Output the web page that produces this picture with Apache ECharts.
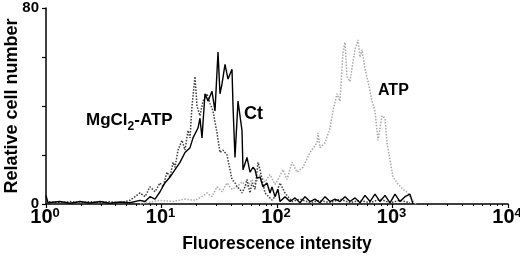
<!DOCTYPE html>
<html><head><meta charset="utf-8">
<script src="https://cdn.jsdelivr.net/npm/echarts@6/dist/echarts.min.js"></script>
<style>html,body{margin:0;padding:0;background:#fff}#c{width:520px;height:266px}</style>
</head><body><div id="c"></div>
<script>
// Fluorescence intensity (log scale) and relative cell number
var ctData = [
  [1.00,3.5],[1.04,0.5],[1.32,1],[1.61,0.3],[1.97,1],[2.40,0.4],[2.94,1],[3.58,0.3],[4.37,0.8],[5.34,0.5],
  [6.51,1.5],[7.20,1],[7.95,3],[8.78,2],[9.71,5],[10.7,8.6],[11.85,11],[13.09,14],[14.46,17],[15.98,21],
  [17.66,23],[18.74,27],[20.70,31],[21.54,35],[22.42,27],[23.80,45],[25.27,42],[26.29,44],[27.36,46],[29.05,38],
  [30.85,62],[32.10,45],[33.41,49],[35.47,57],[37.66,51],[40.78,55],[41.60,40],[43.29,19],[45.96,42],[49.77,30],
  [50.77,14],[54.99,19],[58.38,13],[61.98,15],[64.50,14],[67.12,10.6],[71.26,11],[75.66,7],[81.94,8.6],[86.99,4.5],
  [90.53,7],[96.09,3],[102.0,6],[106.2,1],[117.3,3],[129.6,1],[143.2,2.5],[158.2,0.5],[174.8,3],[193.1,1],
  [213.3,2],[235.7,0.5],[260.4,3],[287.7,1],[317.8,2],[351.2,1],[387.9,3],[428.6,1],[473.5,2.5],[523.0,0.5],
  [578.0,3.5],[638.8,1],[705.6,4],[779.5,1],[861.3,3.5],[951.4,0.5],[1051,4],[1161,1],[1283,3],[1417,4],[1505,0]
];
var mgAtpData = [
  [1.00,1],[1.32,0.5],[1.61,1],[1.97,0.3],[2.40,1],[2.94,0.5],[3.58,1],[4.37,0.5],[5.34,1.5],[5.90,3],
  [6.51,4.5],[7.20,3],[7.95,7],[8.78,5],[9.71,8.6],[10.3,7],[11.16,13],[11.85,11],[12.58,17],[13.09,15],
  [13.90,22],[15.05,26],[15.98,22],[16.96,30],[17.66,27],[18.37,40],[19.50,52],[20.29,40],[21.54,36],[22.87,42],
  [24.77,45],[26.29,41],[27.92,38],[30.24,29],[32.10,21],[34.08,22],[36.91,20],[39.18,14],[40.78,10],[43.29,8.6],
  [45.05,7],[47.83,6],[49.77,4.5],[52.84,7],[54.99,10],[58.38,4.5],[60.75,8.6],[64.50,6],[68.48,17],[71.26,14],
  [74.16,10],[78.74,4.5],[81.94,5],[90.53,1.6],[96.09,3],[106.2,8.6],[117.3,4.5],[134.9,1],[158.2,2],[193.1,0.5],
  [235.7,1.5],[287.7,0.5],[351.2,2],[428.6,0.5],[523.0,1.5],[638.8,0.5],[779.5,2],[951.4,0.5],[1161,1.5],[1417,0.5]
];
var atpData = [
  [6.51,0],[9.71,1.5],[12.58,1],[15.98,2],[19.50,1.5],[22.42,3],[24.77,4.5],[27.36,3],[30.24,7],[33.41,5],
  [36.91,8.6],[40.78,6],[45.05,7],[49.77,9],[54.99,7],[60.75,10],[64.50,8],[71.26,12],[78.74,9],[86.99,12],
  [96.09,8],[102.0,10],[112.7,14],[122.1,10],[134.9,17],[149.0,13],[168.0,15],[193.1,21],[222.0,25],[226.5,29],
  [235.7,23],[260.4,25],[287.7,31],[305.3,38],[330.7,45],[351.2,42],[372.8,62],[387.9,66],[403.7,52],[428.6,50],
  [454.9,58],[473.5,63],[502.6,67],[523.0,60],[544.4,63],[578.0,55],[613.8,50],[664.7,42],[705.6,38],[749.0,26],
  [811.3,36],[861.3,35],[896.4,25],[951.4,18],[1010,11],[1094,8.6],[1233,6],[1362,4.5],[1475,1.6],[1598,0]
];
var xTicks = [1, 10, 100, 1000, 10000];
var yLabels = [0, 80];
var seriesNames = ['ATP', 'MgCl2-ATP', 'Ct'];

var FONT = '"Liberation Sans", Arial, sans-serif';
var chart = echarts.init(document.getElementById('c'), null, {renderer: 'canvas'});
chart.setOption({
  animation: false,
  backgroundColor: '#fff',
  grid: {left: 46, right: 12, top: 8, bottom: 62, containLabel: false, outerBoundsMode: 'none'},
  xAxis: {
    type: 'log', logBase: 10, min: 1, max: 10000,
    name: 'Fluorescence intensity', nameLocation: 'middle', nameGap: 31, nameMoveOverlap: false,
    nameTextStyle: {fontFamily: FONT, fontWeight: 'bold', fontSize: 17.5, color: '#000'},
    axisLine: {lineStyle: {color: '#000', width: 1.5}},
    axisTick: {show: true, length: 4, lineStyle: {color: '#000', width: 1.2}},
    minorTick: {show: true, splitNumber: 9, length: 2, lineStyle: {color: '#000', width: 1}},
    splitLine: {show: false},
    axisLabel: {
      margin: 3, hideOverlap: false,
      formatter: function (v) {
        if (xTicks.indexOf(v) < 0) return '';
        return '{b|10}{s|' + Math.round(Math.log10(v)) + '}';
      },
      rich: {
        b: {fontFamily: FONT, fontWeight: 'bold', fontSize: 20, color: '#000', padding: [0, 0, 0, -2]},
        s: {fontFamily: FONT, fontWeight: 'bold', fontSize: 13, color: '#000', verticalAlign: 'top', lineHeight: 20}
      }
    }
  },
  yAxis: {
    type: 'value', min: 0, max: 80, interval: 20,
    name: 'Relative cell number', nameLocation: 'middle', nameGap: 25, nameRotate: 90, nameMoveOverlap: false,
    nameTextStyle: {fontFamily: FONT, fontWeight: 'bold', fontSize: 18, color: '#000'},
    axisLine: {show: true, lineStyle: {color: '#000', width: 1.5}},
    axisTick: {show: true, length: 4, lineStyle: {color: '#000', width: 1.2}},
    splitLine: {show: false},
    axisLabel: {
      margin: 7, hideOverlap: false,
      formatter: function (v) { return yLabels.indexOf(v) >= 0 ? '{t|' + v + '}' : ''; },
      rich: {t: {fontFamily: FONT, fontWeight: 'bold', fontSize: 15, color: '#000'}}
    }
  },
  series: [
    {name: seriesNames[0], type: 'line', data: atpData, showSymbol: false, z: 1,
     lineStyle: {color: '#a8a8a8', width: 1.5, type: 'dotted'}},
    {name: seriesNames[1], type: 'line', data: mgAtpData, showSymbol: false, z: 2,
     lineStyle: {color: '#3a3a3a', width: 1.5, type: 'dotted'}},
    {name: seriesNames[2], type: 'line', data: ctData, showSymbol: false, z: 3,
     lineStyle: {color: '#000', width: 1.4}}
  ],
  graphic: [
    {type: 'text', left: 86, top: 112, style: {
      rich: {
        a: {fontFamily: FONT, fontWeight: 'bold', fontSize: 17, fill: '#000'},
        sub: {fontFamily: FONT, fontWeight: 'bold', fontSize: 12, fill: '#000', verticalAlign: 'bottom', lineHeight: 25}
      },
      text: '{a|MgCl}{sub|2}{a|-ATP}'}},
    {type: 'text', left: 244, top: 105, style: {text: 'Ct', fontFamily: FONT, fontWeight: 'bold', fontSize: 18, fill: '#000'}},
    {type: 'text', left: 378, top: 83, style: {text: 'ATP', fontFamily: FONT, fontWeight: 'bold', fontSize: 16, fill: '#000'}}
  ]
});
</script></body></html>
